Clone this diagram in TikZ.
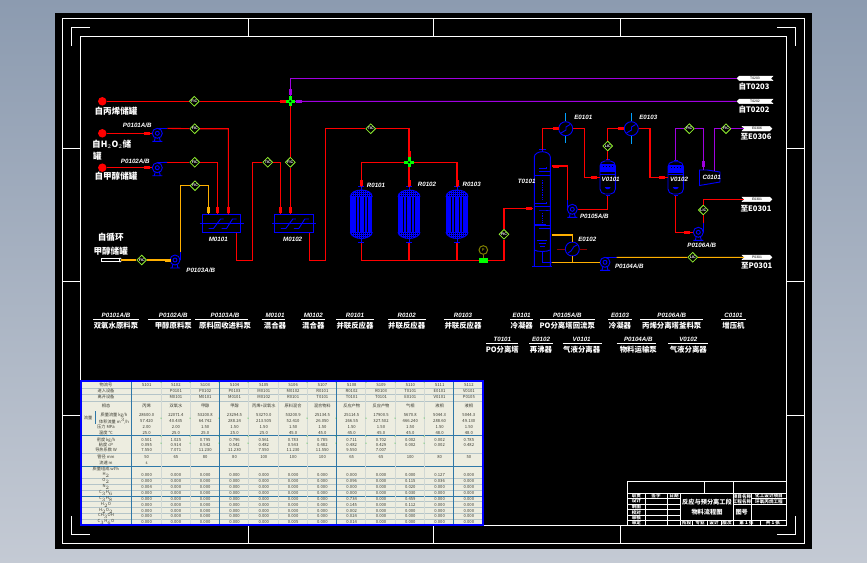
\documentclass[tikz,border=0pt]{standalone}
\usepackage{fontspec}
\setmainfont{Liberation Sans}
\newfontfamily\cjk{Noto Sans CJK SC}
\usetikzlibrary{shapes.geometric,shapes.symbols}
\definecolor{bgtop}{HTML}{8C9BB0}
\definecolor{bgbot}{HTML}{C4CAD4}
\definecolor{pred}{HTML}{FF0000}
\definecolor{porange}{HTML}{FFB000}
\definecolor{ppurple}{HTML}{A000E0}
\definecolor{pblue}{HTML}{0000FF}
\definecolor{pgreen}{HTML}{00FF00}
\definecolor{vgreen}{HTML}{90F030}
\definecolor{pcyan}{HTML}{00A0FF}
\definecolor{polive}{HTML}{808000}
\definecolor{tcream}{HTML}{EDEDE0}
\definecolor{tdark}{HTML}{2F78A8}
\definecolor{tlight}{HTML}{B4C4C8}
\definecolor{ttext}{HTML}{3A3A30}
\tikzset{
  rp/.style={draw=pred,line width=1.1pt},
  op/.style={draw=porange,line width=1.1pt},
  vp/.style={draw=ppurple,line width=1.1pt},
  bl/.style={draw=pblue,line width=0.9pt},
  cy/.style={draw=pcyan,line width=0.9pt},
  fr/.style={draw=white,line width=0.9pt},
  valve/.style={diamond,draw=vgreen,line width=0.8pt,fill=black,inner sep=0pt,minimum size=10pt,
     text=white,font=\bfseries\fontsize{3.6}{4}\selectfont},
  pumpnode/.style={circle,draw=pblue,line width=0.9pt,fill=black,inner sep=0pt,minimum size=10pt},
  juncnode/.style={inner sep=0pt,minimum size=9pt},
  cnlab/.style={text=white,inner sep=0pt,font=\cjk\bfseries\fontsize{8.6}{9}\selectfont},
  outlab/.style={text=white,inner sep=0pt,font=\cjk\bfseries\fontsize{7.6}{8}\selectfont},
  taglab/.style={text=white,inner sep=0pt,font=\bfseries\itshape\fontsize{6.2}{7}\selectfont},
  legname/.style={text=white,inner sep=0pt,font=\cjk\bfseries\fontsize{7.4}{8}\selectfont},
  mkh/.style={inner sep=0pt,minimum width=6pt,minimum height=3pt},
  mkv/.style={inner sep=0pt,minimum width=3pt,minimum height=6pt},
  srcball/.style={circle,fill=pred,inner sep=0pt,minimum size=8.5pt},
  outtag/.style={signal,signal from=west,signal to=east,fill=white,draw=white,inner sep=0pt,
     minimum height=4.6pt,minimum width=30pt,text=black,font=\fontsize{3.4}{4}\selectfont},
  intag/.style={signal,signal from=east,signal to=west,fill=white,draw=white,inner sep=0pt,
     minimum height=4.6pt,minimum width=36pt,text=black,font=\fontsize{3.4}{4}\selectfont},
  celltxt/.style={text=ttext,inner sep=0pt,font=\cjk\fontsize{4.2}{5}\selectfont},
  tb/.style={draw=white,line width=0.8pt},
  tbtxt/.style={text=white,inner sep=0pt,font=\cjk\bfseries\fontsize{4.6}{5}\selectfont},
}
% pump body: name, x, y
\newcommand{\pumpunit}[3]{%
  \draw[bl] (#2-5,#3+8) -- (#2+5,#3+8) (#2-3,#3+8) -- (#2-2,#3+4) (#2+3,#3+8) -- (#2+2,#3+4);
  \node[pumpnode] (#1) at (#2,#3) {};
  \draw[bl] (#2,#3) circle (2pt);
}
% mixer: name, cx
\newcommand{\mixerunit}[2]{%
  \node[draw=pblue,line width=1pt,fill=black,inner sep=0pt,minimum width=38.5pt,minimum height=18.4pt] (#1) at (#2,223.5) {};
  \draw[bl] (#2-22,223.3) -- (#2+22,223.3);
  \draw[bl] (#2-13,228.5) -- (#2-8,228.5) -- (#2-1,219) -- (#2+2,219);
  \draw[bl] (#2,228.5) -- (#2+5,228.5) -- (#2+11,219) -- (#2+15,219);
}
% reactor: name, x
\newcommand{\reactorunit}[2]{%
  \node[inner sep=0pt,minimum width=22pt,minimum height=48.3pt] (#1) at (#2,214.2) {};
  \coordinate (#1t) at (#2,186.5);
  \coordinate (#1b) at (#2,242.7);
  \fill[pblue] (#2-11,197) rectangle (#2+11,232);
  \draw[black,line width=0.5pt] (#2-5.5,197) -- (#2-5.5,232) (#2-2.5,197) -- (#2-2.5,232) (#2+2.5,197) -- (#2+2.5,232) (#2+5.5,197) -- (#2+5.5,232);
  \begin{scope}
    \clip (#2-11,197) .. controls (#2-11,192) and (#2-5,190) .. (#2,190) .. controls (#2+5,190) and (#2+11,192) .. (#2+11,197) -- cycle;
    \foreach \k in {-12,-10,...,12} {\draw[pblue,line width=0.6pt] (#2+\k,189) -- (#2+\k,198);}
    \foreach \k in {190,192,194,196} {\draw[pblue,line width=0.6pt] (#2-12,\k) -- (#2+12,\k);}
  \end{scope}
  \begin{scope}
    \clip (#2-11,232) .. controls (#2-11,236) and (#2-5,238.5) .. (#2,238.5) .. controls (#2+5,238.5) and (#2+11,236) .. (#2+11,232) -- cycle;
    \foreach \k in {-12,-10,...,12} {\draw[pblue,line width=0.6pt] (#2+\k,231) -- (#2+\k,240);}
    \foreach \k in {232,234,236,238} {\draw[pblue,line width=0.6pt] (#2-12,\k) -- (#2+12,\k);}
  \end{scope}
  \draw[bl] (#2-11,197) .. controls (#2-11,192) and (#2-5,190) .. (#2,190) .. controls (#2+5,190) and (#2+11,192) .. (#2+11,197);
  \draw[bl] (#2-11,232) .. controls (#2-11,236) and (#2-5,238.5) .. (#2,238.5) .. controls (#2+5,238.5) and (#2+11,236) .. (#2+11,232);
  \draw[bl] (#2-3,186.7) -- (#2+3,186.7) (#2,186.7) -- (#2,190) (#2,238.5) -- (#2,242.7) (#2-3,242.7) -- (#2+3,242.7);
}
% vessel: name, x, top, bottom
\newcommand{\vesselunit}[4]{%
  \node[inner sep=0pt,minimum width=15.4pt,minimum height=#4pt-#3pt,draw=pblue,line width=0.9pt,rounded corners=5pt,fill=black] (#1) at (#2,{(#3+#4)/2}) {};
  \fill[pblue] (#2-7.7,#3+3) rectangle (#2+7.7,#3+11);
  \foreach \k in {-5,-2,1,4} {\fill[black] (#2+\k,#3+5) rectangle (#2+\k+1,#3+6);}
  \draw[bl] (#2-7.7,#3+13) -- (#2+7.7,#3+13);
  \fill[pblue] (#2-3,#4-7) .. controls (#2-2,#4-4) and (#2+2,#4-4) .. (#2+3,#4-7) -- cycle;
  \draw[bl] (#2-2,#3-1.5) -- (#2+2,#3-1.5) (#2-2,#4+1.5) -- (#2+2,#4+1.5);
}
% legend item: name, cx, ytag, x1, x2, tag, cn
\newcommand{\legitem}[7]{%
  \node[taglab] (#1t) at (#2,#3) {#6};
  \coordinate (#1l) at (#4,#3+4);
  \coordinate (#1r) at (#5,#3+4);
  \draw[fr,line width=0.7pt] (#1l) -- (#1r);
  \node[legname] (#1n) at (#2,#3+10) {#7};
}
\def\kgh{kg/h}
\def\mph{m$^3$/h}
\begin{document}
\begin{tikzpicture}[x=1pt,y=-1pt]
\useasboundingbox (0,0) rectangle (867,562);
\shade[top color=bgtop,bottom color=bgbot] (0,0) rectangle (867,562);
\fill[black] (55,13) rectangle (812,549);
% drawing frame
\draw[fr] (62.5,18.5) rectangle (804.5,543.5);
\draw[fr] (80.5,36.5) rectangle (786.5,525.5);
\foreach \px in {248,433.5,620} {\draw[fr] (\px,18.5) -- (\px,36.5) (\px,525.5) -- (\px,543.5);}
\foreach \py in {148,281,415} {\draw[fr] (62.5,\py) -- (80.5,\py) (786.5,\py) -- (804.5,\py);}
\draw[fr] (71.5,45.5) -- (71.5,27.5) -- (89.5,27.5);
\draw[fr] (777,27.5) -- (795,27.5) -- (795,45.5);
\draw[fr] (71.5,516) -- (71.5,534) -- (89.5,534);
\draw[fr] (777,534) -- (795,534) -- (795,516);

% ---------- sources
\node[srcball] (s1) at (102.3,101.3) {};
\node[srcball] (s2) at (102.3,133.3) {};
\node[srcball] (s3) at (102.3,167.7) {};
\node[draw=white,fill=black,line width=0.8pt,inner sep=0pt,minimum width=18pt,minimum height=3.6pt] (s4) at (110.5,260) {};
\draw[white,line width=0.8pt] (s4.north east) -- (122,260) -- (s4.south east);
\node[cnlab] (l1) at (116,110.7) {自丙烯储罐};
\node[cnlab,anchor=west] (l2) at (92,144) {自H$_2$O$_2$储};
\node[cnlab] (l2b) at (97.3,156) {罐};
\node[cnlab] (l3) at (116,176.3) {自甲醇储罐};
\node[cnlab] (l4) at (110.7,237.7) {自循环};
\node[cnlab] (l4b) at (110.7,250.7) {甲醇储罐};

% ---------- valves
\foreach \nm/\vx/\vy/\tx in {v1/194.3/101.3/FIC,v2/194.7/128.7/FIC,v3/194.7/162.3/FIC,v4/195/185.7/FIC,
  v5/141.7/260/FIC,v6/267.7/162.3/TIC,v7/290.3/162.3/FIC,v8/370.7/128.7/TIC,v9/504/234.3/PIC,
  v10/607.7/146/LIC,v11/689.3/128.7/PIC,v12/726/128.7/FIC,v13/703.3/210/LIC,v14/692.7/257.3/LIC}
  {\node[valve] (\nm) at (\vx,\vy) {\tx};}

% ---------- junctions and equipment
\node[juncnode] (j1) at (290.3,101.3) {};
\node[juncnode] (j2) at (409,162.3) {};
\pumpunit{p1}{157.3}{133.3}
\pumpunit{p2}{157.3}{167.7}
\pumpunit{p3}{175}{260}
\pumpunit{p5}{572.3}{209.3}
\pumpunit{p6}{698.3}{232.3}
\pumpunit{p4}{605}{262.3}
\coordinate (p1o) at (167.3,128.4);
\coordinate (p2o) at (167.3,162.3);
\coordinate (p3o) at (180.3,251.7);
\coordinate (p5i) at (567.3,200);
\coordinate (p6o) at (703.3,223);
\coordinate (p4o) at (616.7,257.3);
\draw[bl] (p1o) -- (157.3,128.4);
\draw[bl] (p2o) -- (157.3,162.7);
\draw[bl] (p3o) -- (180.3,260);
\draw[bl] (p5i) -- (567.3,209);
\draw[bl] (p6o) -- (703.3,232);
\draw[bl] (p4o) -- (605,257.3);
\mixerunit{m1}{221.5}
\mixerunit{m2}{293.8}
\reactorunit{r1}{361.3}
\reactorunit{r2}{409}
\reactorunit{r3}{457}
\vesselunit{d1}{607.7}{161}{194}
\vesselunit{d2}{675.7}{161.7}{194}
\node[circle,draw=pblue,line width=0.9pt,fill=black,inner sep=0pt,minimum size=14pt] (e1) at (565.7,128.7) {};
\node[circle,draw=pblue,line width=0.9pt,fill=black,inner sep=0pt,minimum size=14pt] (e3) at (631.3,128.7) {};
\node[circle,draw=pblue,line width=0.9pt,fill=black,inner sep=0pt,minimum size=14pt] (e2) at (572.3,249) {};
\draw[bl] (561,133) -- (566,130) -- (566,127) -- (570,124.5);
\draw[bl] (626.5,133) -- (631.5,130) -- (631.5,127) -- (635.5,124.5);
\draw[bl] (568,253) -- (571,251) -- (574,246.5) -- (577,245);
\coordinate (e1a) at (565.7,113); \coordinate (e1b) at (565.7,143);
\coordinate (e3a) at (631.3,113); \coordinate (e3b) at (631.3,144);
\draw[cy] (e1a) -- (e1) (e1) -- (e1b);
\draw[cy] (e3a) -- (e3) (e3) -- (e3b);
\coordinate (e2a) at (557.3,249); \coordinate (e2b) at (587,249);
\draw[draw=pred!55!black,line width=0.9pt] (e2a) -- (e2) (e2) -- (e2b);
% compressor
\node[inner sep=0pt,minimum width=20pt,minimum height=14pt] (c1) at (709.7,177.5) {};
\draw[bl] (699.5,170) -- (707,170) -- (720,172) -- (720,182) -- (699.5,185.5) -- cycle;
% column
\node[inner sep=0pt,minimum width=16pt,minimum height=110pt] (t1) at (542.3,205) {};
\draw[bl] (534.3,266.7) -- (534.3,157) .. controls (534.3,154) and (538,151.7) .. (542.3,151.7) .. controls (546.6,151.7) and (550.3,154) .. (550.3,157) -- (550.3,266.7);
\draw[bl] (532,266.7) -- (552,266.7);
\draw[bl] (539,149.5) -- (545.6,149.5) (542.3,149.5) -- (542.3,151.7);
\draw[bl] (534.3,250) .. controls (537,252) and (547,252) .. (550.3,250);
\draw[bl,line width=0.6pt] (534.3,175) -- (550.3,175) (534.3,206.5) -- (550.3,206.5) (534.3,225) -- (550.3,225);
\draw[bl,line width=0.6pt] (539,168.5) -- (546,168.5) -- (546,167) (539,171.5) -- (550.3,171.5) (534.3,203) -- (546,203) -- (546,202) (539,210) -- (550.3,210) -- (546,210) (534.3,224) -- (546,224) (539,228) -- (550.3,228);
\draw[bl,line width=0.7pt,densely dotted] (542.3,180) -- (542.3,200) (542.3,213) -- (542.3,222);
\draw[bl,line width=0.7pt] (537,240) -- (547,240) (538.5,243) -- (546,243) (540,246) -- (544.5,246);
\coordinate (t1top) at (542.3,149.5);
\coordinate (t1ref) at (551.5,166);
\coordinate (t1in) at (533,208.3);
\coordinate (t1reb) at (551.5,235);
\coordinate (t1bot) at (542.3,251.5);
\coordinate (t1out) at (551.5,262.3);
\draw[bl] (t1bot) |- (t1out);

% ---------- pipes: red
\draw[rp] (s1) -- (v1) -- (j1);
\draw[rp] (s2) -- (p1);
\draw[rp] (s3) -- (p2);
\coordinate (m1a) at (228.3,214.3);
\coordinate (m1b) at (217.7,214.3);
\coordinate (m1c) at (208.3,214.3);
\coordinate (m1o) at (236.3,232.7);
\coordinate (b1) at (252.3,260.3);
\coordinate (m2a) at (280.7,214.3);
\coordinate (m2b) at (290.3,214.3);
\coordinate (m2o) at (309.3,232.7);
\coordinate (b2) at (325.7,260.3);
\draw[rp] (p1o) -- (v2) -| (m1a);
\draw[rp] (p2o) -- (v3) -| (m1b);
\draw[rp] (m1o) |- (b1) |- (v6);
\draw[rp] (v6) -| (m2a);
\draw[rp] (j1) -- (v7) -- (m2b);
\draw[rp] (m2o) |- (b2) |- (v8);
\draw[rp] (v8) -| (j2);
\draw[rp] (j2) -| (r1t);
\draw[rp] (j2) -- (r2t);
\draw[rp] (j2) -| (r3t);
\node[draw=none,fill=pgreen,inner sep=0pt,minimum width=9pt,minimum height=5pt] (fi) at (483.3,260.3) {};
\node[circle,draw=polive,line width=1pt,fill=black,inner sep=0pt,minimum size=8.6pt,text=polive,font=\bfseries\fontsize{4}{4}\selectfont] (ic) at (483.3,250) {P};
\draw[draw=polive,line width=0.9pt] (ic) -- (fi);
\draw[rp] (r1b) |- (fi);
\draw[rp] (r2b) -- (r2b |- fi);
\draw[rp] (r3b) -- (r3b |- fi);
\coordinate (b3) at (504,260.3);
\draw[rp] (fi) -- (b3) -- (v9);
\draw[rp] (v9) |- (t1in);
\draw[rp] (t1top) |- (e1);
\coordinate (d1in) at (600,177.3);
\coordinate (b4) at (584.3,128.7);
\draw[rp] (e1) -- (b4) |- (d1in);
\draw[rp] (t1ref) -| (p5i);
\coordinate (d1t) at (607.7,159.5);
\coordinate (d1b) at (607.7,195.5);
\draw[rp] (d1t) -- (v10);
\draw[rp] (v10) |- (e3);
\coordinate (b5) at (650,128.7);
\coordinate (d2in) at (668.3,177.3);
\draw[rp] (e3) -- (b5) |- (d2in);
\draw[rp] (d1b) |- (p5);
\coordinate (d2b) at (675.7,195.5);
\draw[rp] (d2b) |- (p6);
\draw[rp] (p6o) -- (v13);
\node[outtag] (o2) at (757,199.3) {E0301};
\node[outtag] (o1) at (757,128.7) {E0306};
\node[outtag] (o3) at (757,257.3) {P0301};
\node[intag] (i1) at (755,78.3) {T0203};
\node[intag] (i2) at (755,101.3) {T0202};
\draw[rp] (v13) |- (o2);

% ---------- pipes: orange
\draw[op] (s4) ++(10.5,0) -- (v5) -- (p3);
\draw[op] (p3o) |- (v4);
\draw[op] (v4) -| (m1c);
\coordinate (e2t) at (572.3,235);
\draw[op] (t1reb) -- (e2t) -- (e2);
\coordinate (e2j) at (572.3,262.3);
\draw[op] (e2) -- (e2j);
\draw[op] (t1out) -- (p4);
\draw[op] (p4o) -- (v14) -- (o3);

% ---------- pipes: purple
\coordinate (d2t) at (675.7,160);
\draw[vp] (d2t) |- (v11);
\coordinate (c1i) at (703.3,170);
\coordinate (c1o) at (714.3,171);
\draw[vp] (v11) -| (c1i);
\draw[vp] (c1o) |- (v12);
\draw[vp] (v12) -- (o1);
\draw[vp] (j1) -- (i2);
\draw[vp] (j1) |- (i1);

% ---------- junction crosses
\foreach \jx/\jy in {290.3/101.3,409/162.3} {
  \draw[pgreen,line width=3pt] (\jx-5,\jy) -- (\jx+5,\jy) (\jx,\jy-5) -- (\jx,\jy+5);
  \fill[black] (\jx,\jy) circle (1.2pt);
}
% ---------- thick pipe markers
\foreach \nm/\mx/\my/\mc in {k1/282.5/101.3/pred,k2/299.3/101.3/ppurple,k3/147/133.3/pred,k4/147/167.7/pred,
  k5/168/260/porange,k6/556/128.7/pred,k7/594/177.3/pred,k8/621/128.7/pred,k9/662.3/177.3/pred,k10/687/232.3/pred,
  k11/556/166/pred,k12/529/208.3/pred}
  {\node[mkh,fill=\mc] (\nm) at (\mx,\my) {};}
\foreach \nm/\mx/\my/\mc in {q1/290.3/91.7/ppurple,q2/208.3/209.5/porange,q3/217.7/209.5/pred,q4/228.3/209.5/pred,
  q5/280.7/209.5/pred,q6/290.3/209.5/pred,q7/409/154/pred,q8/361.3/183/pred,q9/409/183/pred,q10/457/183/pred,q11/703.3/163.5/ppurple}
  {\node[mkv,fill=\mc] (\nm) at (\mx,\my) {};}

% ---------- equipment tags
\foreach \nm/\lx/\ly/\tx in {g1/137.3/125.7/P0101A\slash B,g2/135.3/161/P0102A\slash B,g3/200.7/270/P0103A\slash B,
  g4/218.3/239.3/M0101,g5/292.7/239.3/M0102,g6/376/185.3/R0101,g7/427/184.7/R0102,g8/471.7/184.7/R0103,
  g9/526.7/181/T0101,g10/583.3/117/E0101,g11/648.3/117/E0103,g12/610.7/179.3/V0101,g13/679/179.7/V0102,
  g14/711.7/177/C0101,g15/594.3/216.7/P0105A\slash B,g16/587.3/239.3/E0102,g17/629.3/266.7/P0104A\slash B,g18/701.7/245/P0106A\slash B}
  {\node[taglab] (\nm) at (\lx,\ly) {\tx};}
\node[outlab] (t1a) at (754,86.7) {自T0203};
\node[outlab] (t1c) at (754,110) {自T0202};
\node[outlab] (t1d) at (756,137) {至E0306};
\node[outlab] (t1e) at (756,208.3) {至E0301};
\node[outlab] (t1f) at (756.7,265.7) {至P0301};

% ---------- equipment list
\legitem{a1}{116}{315.7}{93.3}{139}{P0101A/B}{双氧水原料泵}
\legitem{a2}{173.3}{315.7}{148.3}{191}{P0102A/B}{甲醇原料泵}
\legitem{a3}{225}{315.7}{195}{248.3}{P0103A/B}{原料回收进料泵}
\legitem{a4}{275}{315.7}{261.7}{285}{M0101}{混合器}
\legitem{a5}{313.3}{315.7}{301}{325}{M0102}{混合器}
\legitem{a6}{355}{315.7}{336}{374}{R0101}{并联反应器}
\legitem{a7}{406.7}{315.7}{388}{426}{R0102}{并联反应器}
\legitem{a8}{463}{315.7}{444}{481.7}{R0103}{并联反应器}
\legitem{a9}{521.7}{315.7}{510}{533.3}{E0101}{冷凝器}
\legitem{a10}{567.3}{315.7}{540}{595}{P0105A/B}{PO分离塔回流泵}
\legitem{a11}{620}{315.7}{608.3}{631.7}{E0103}{冷凝器}
\legitem{a12}{671.7}{315.7}{640}{703.3}{P0106A/B}{丙烯分离塔釜料泵}
\legitem{a13}{733.5}{315.7}{720.7}{746}{C0101}{增压机}
\legitem{b1}{502.3}{339.3}{486}{518.3}{T0101}{PO分离塔}
\legitem{b2}{541}{339.3}{529.3}{552.7}{E0102}{再沸器}
\legitem{b3}{581.7}{339.3}{562.7}{601.7}{V0101}{气液分离器}
\legitem{b4}{638.3}{339.3}{616.7}{656}{P0104A/B}{物料运输泵}
\legitem{b5}{688.3}{339.3}{668.3}{708.3}{V0102}{气液分离器}

% ---------- stream table
\fill[tcream] (81,381) rectangle (483,525);
\foreach \hy in {388,394,401,453,478,484,490,501,507,513,519} {\draw[tlight,line width=0.7pt] (81,\hy) -- (483,\hy);}
\foreach \hy in {435,466,496} {\draw[tdark,line width=0.9pt] (81,\hy) -- (483,\hy);}
\foreach \vx in {161,190,248,278,307,365,395,424} {\draw[tlight!50!tcream,line width=0.3pt] (\vx,381) -- (\vx,525);}
\foreach \vx in {219,336,453} {\draw[tdark,line width=0.9pt] (\vx,381) -- (\vx,525);}
\draw[tdark,line width=1pt] (131.7,381) -- (131.7,525);
\draw[tdark,line width=0.8pt] (95.7,411) -- (95.7,424);
\draw[pblue,line width=1.2pt] (81,381) rectangle (483,525);
\foreach \dx in {161,190,219,248,307,336,366,395,424} \foreach \dy in {382,418,436,443} {\fill[pgreen!70!black] (\dx,\dy) circle (0.5pt);}
\foreach \yy/\lxx/\lab/\vals in {
 385/106/物流号/{S101,S102,S103,S104,S105,S106,S107,S108,S109,S110,S111,S112},
 391/106/进入设备/{,P0101,P0102,P0103,M0101,M0102,R0101,R0102,R0103,T0101,E0101,V0101},
 397/106/离开设备/{,M0101,M0101,M0101,M0102,R0101,T0101,T0101,T0101,E0101,V0101,P0105},
 406/106/相态/{丙烯,双氧水,甲醇,甲醇,丙烯+双氧水,原料混合,混合物料,反应产物,反应产物,气相,液相,液相},
 415/114/质量流量 \kgh/{28600.0,22071.4,53200.8,23294.5,53270.0,53200.9,25134.5,25114.5,17900.5,5670.8,5044.3,5044.3},
 421/114/体积流量 \mph/{57.420,40.435,64.742,288.24,213.505,52.410,26.050,266.55,327.502,466.240,288.60,49.130},
 427/106/压力 MPa/{2.00,2.00,1.50,1.50,1.50,1.50,1.50,1.50,1.50,1.50,1.50,1.50},
 433/106/温度 ℃/{25.0,25.0,25.0,25.0,25.0,45.0,45.0,45.0,45.0,45.0,48.0,48.0},
 440/106/密度 \kgh/{0.501,1.025,0.795,0.796,0.561,0.783,0.785,0.711,0.702,0.002,0.002,0.785},
 445/106/粘度 cP/{0.095,0.914,0.542,0.542,0.482,0.543,0.482,0.482,0.429,0.002,0.002,0.482},
 450/106/导热系数 W/{7.550,7.071,11.230,11.230,7.550,11.230,11.550,9.550,7.007,,,},
 457/106/管径 mm/{50,65,80,80,100,100,100,65,65,100,80,50},
 463/106/流速 m/s/{1.25,1.56,1.25,1.20,1.25,1.25,1.25,1.25,1.49,2.50,2.17,0.91},
 469/106/质量组成 wt\%/{,,,,,,,,,,,},
 475/106/H$_2$/{0.000,0.000,0.000,0.000,0.000,0.000,0.000,0.000,0.000,0.000,0.127,0.000},
 481/106/O$_2$/{0.000,0.000,0.000,0.000,0.000,0.000,0.000,0.096,0.000,0.115,0.036,0.000},
 487/106/N$_2$/{0.004,0.000,0.000,0.000,0.000,0.000,0.000,0.000,0.000,0.020,0.000,0.000},
 493/106/C$_3$H$_6$/{0.000,0.000,0.000,0.000,0.000,0.000,0.000,0.000,0.000,0.030,0.000,0.000},
 499/106/C$_3$H$_8$/{0.000,0.000,0.000,0.000,0.000,0.000,0.000,0.734,0.000,0.459,0.000,0.000},
 505/106/H$_2$O/{0.000,0.000,0.000,0.000,0.000,0.000,0.000,0.145,0.000,0.112,0.000,0.000},
 511/106/H$_2$O$_2$/{0.000,0.000,0.000,0.000,0.000,0.000,0.000,0.002,0.000,0.000,0.000,0.000},
 516/106/CH$_3$OH/{0.000,0.000,0.000,0.000,0.000,0.000,0.000,0.024,0.000,0.000,0.000,0.000},
 522/106/C$_3$H$_6$O/{0.000,0.000,0.000,0.000,0.000,0.005,0.000,0.014,0.000,0.000,0.000,0.000}}
{
  \node[celltxt] (h\yy) at (\lxx,\yy) {\lab};
  \foreach \v [count=\c] in \vals {\node[celltxt] (c\yy-\c) at ({117.3+29.3*\c},\yy) {\v};}
}
\node[celltxt] (hz) at (88,418) {流量};

% ---------- title block
\draw[tb] (627.5,481) -- (786.5,481) (627.5,481) -- (627.5,525.5);
\draw[tb] (627.5,493.3) -- (786.5,493.3);
\draw[tb] (704.3,481) -- (704.3,493.3) (733.3,481) -- (733.3,525.5);
\draw[tb] (645.3,493.3) -- (645.3,525.5) (667.3,493.3) -- (667.3,525.5) (680.7,493.3) -- (680.7,525.5) (751,493.3) -- (751,525.5);
\foreach \hy in {498.3,504,509.7,515,520} {\draw[tb,line width=0.6pt] (627.5,\hy) -- (680.7,\hy);}
\draw[tb] (733.3,504.3) -- (786.5,504.3) (680.7,520) -- (786.5,520) (751,498.5) -- (786.5,498.5);
\foreach \vx in {692.7,707.3,721} {\draw[tb,line width=0.6pt] (\vx,520) -- (\vx,525.5);}
\draw[tb,line width=0.6pt] (760,520) -- (760,525.5);
\foreach \nm/\lx/\ly/\tx in {w1/636.4/496/职责,w2/656/496/签字,w3/674/496/日期,w4/636.4/501/设计,w5/636.4/507/制图,
   w6/636.4/512.5/校对,w7/636.4/517.5/审核,w8/636.4/522.7/审定,
   w9/686.7/522.7/阶段,w10/700/522.7/专业,w11/714/522.7/设计,w12/727/522.7/版次,
   w13/746.5/522.7/第 1 张,w14/773/522.7/共 1 张,
   w15/742/497/项目名称,w16/742/501.5/工程名称,w17/769/496/化工设计项目,w18/769/501.5/环氧丙烷工程}
  {\node[tbtxt] (\nm) at (\lx,\ly) {\tx};}
\node[cnlab,font=\cjk\bfseries\fontsize{6.2}{7}\selectfont] (w19) at (707,502.5) {反应与预分离工段};
\node[cnlab,font=\cjk\bfseries\fontsize{6.2}{7}\selectfont] (w20) at (707,511.7) {物料流程图};
\node[cnlab,font=\cjk\bfseries\fontsize{6.2}{7}\selectfont] (w21) at (741.7,512.7) {图号};
\end{tikzpicture}
\end{document}
